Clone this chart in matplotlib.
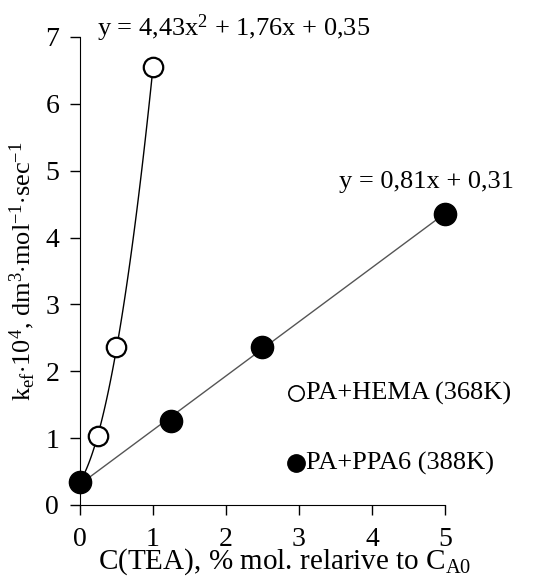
import numpy as np
import matplotlib.pyplot as plt

plt.rcParams['font.family'] = ['Liberation Serif', 'DejaVu Serif']
plt.rcParams['mathtext.fontset'] = 'custom'
plt.rcParams['mathtext.rm'] = 'Liberation Serif'
plt.rcParams['mathtext.it'] = 'Liberation Serif'

# PA+HEMA (368K)
hema_x = [0.25, 0.5, 1.0]
hema_y = [1.03, 2.37, 6.55]
hema_fit = [4.43, 1.76, 0.35]

# PA+PPA6 (388K)
ppa_x = [0, 1.25, 2.5, 5.0]
ppa_y = [0.35, 1.25, 2.37, 4.35]
ppa_fit = [0.81, 0.31]

fig = plt.figure(figsize=(5.54, 5.78), dpi=100)
ax = fig.add_axes([0.1444, 0.1263, 0.6586, 0.8097])

# trend lines
xc = np.linspace(0, 1, 100)
ax.plot(xc, np.polyval(hema_fit, xc), color='black', lw=1.0, zorder=2)
xl = np.linspace(0, 5, 2)
ax.plot(xl, np.polyval(ppa_fit, xl), color='#555555', lw=1.0, zorder=2)

ax.plot(hema_x, hema_y, 'o', ms=14, mfc='white', mec='black', mew=1.6,
        zorder=3, clip_on=False)
ax.plot(ppa_x, ppa_y, 'o', ms=16, mfc='black', mec='black', zorder=4, clip_on=False)

ax.set_xlim(0, 5)
ax.set_ylim(0, 7)
ax.set_xticks(range(6))
ax.set_yticks(range(8))
for s in ['top', 'right']:
    ax.spines[s].set_visible(False)
ax.tick_params(direction='out', length=7, width=1, labelsize=20)
ax.tick_params(axis='y', pad=8)
ax.tick_params(axis='x', pad=9)

ax.set_xlabel(r'C(TEA), % mol. relarive to C$_{\mathrm{A0}}$', fontsize=21)
ax.xaxis.set_label_coords(0.56, -0.088)
ax.set_ylabel(r'k$_{\mathrm{ef}}$$\cdot$10$^{4}$, dm$^{3}$$\cdot$mol$^{-1}$$\cdot$sec$^{-1}$',
              fontsize=19, labelpad=6)

ax.text(0.23, 6.9, r'y = 4,43x$^{2}$ + 1,76x + 0,35', fontsize=19, va='bottom')
ax.text(3.55, 4.67, 'y = 0,81x + 0,31', fontsize=19, va='bottom')

# legend entries
fig.lines.append(plt.Line2D([296 / 554], [1 - 393 / 578], marker='o', ms=11,
                            mfc='white', mec='black', mew=1.2, transform=fig.transFigure))
fig.text(306 / 554, 1 - 393 / 578, 'PA+HEMA (368K)', fontsize=19, va='center')
fig.lines.append(plt.Line2D([296 / 554], [1 - 463 / 578], marker='o', ms=12.5,
                            mfc='black', mec='black', transform=fig.transFigure))
fig.text(306 / 554, 1 - 463 / 578, 'PA+PPA6 (388K)', fontsize=19, va='center')

fig.savefig('out.png', dpi=100)
